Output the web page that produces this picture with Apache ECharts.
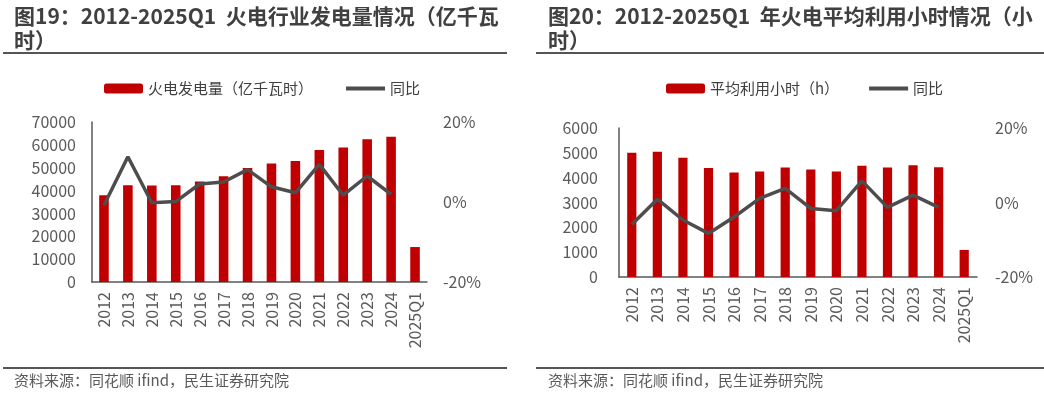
<!DOCTYPE html>
<html>
<head>
<meta charset="utf-8">
<script src="https://cdn.jsdelivr.net/npm/echarts@6/dist/echarts.min.js"></script>
<style>
html,body{margin:0;padding:0;background:#fff;}
#c{width:1044px;height:397px;}
</style>
</head>
<body>
<div id="c"></div>
<script>
// ---- data ----
const categories = ['2012','2013','2014','2015','2016','2017','2018','2019','2020','2021','2022','2023','2024','2025Q1'];
const genValues = [37900, 42300, 42200, 42300, 44000, 46300, 49900, 51800, 52900, 57700, 58800, 62400, 63600, 15300];
const genYoY = [-0.8, 11.3, -0.2, 0.1, 4.5, 5.0, 8.1, 3.8, 2.3, 9.4, 1.7, 6.5, 1.9, null];
const hourValues = [5000, 5040, 4800, 4390, 4210, 4250, 4410, 4330, 4250, 4480, 4410, 4500, 4420, 1090];
const hourYoY = [-5.9, 0.9, -4.7, -8.3, -3.9, 1.1, 3.8, -1.6, -2.2, 5.8, -1.3, 2.0, -1.3, null];
const genTicks = [0, 70000, 10000];
const hourTicks = [0, 6000, 1000];
const pctTicks = [-20, 20, 20];

const FONT = '"Noto Sans CJK SC", "Noto Sans", sans-serif';
const RED = '#C00000';
const GRAY = '#4D4D4D';
const AX = '#595959';
const LINE_ICON = 'path://M0,0L0,0.01M0,3L40,3L40,7L0,7ZM0,10L0,10.01';

const chart = echarts.init(document.getElementById('c'), null, {renderer:'canvas'});

function xAxisCfg(idx){
  return {
    type:'category', gridIndex:idx, data:categories,
    axisLine:{show:true, lineStyle:{color:AX, width:1.5}},
    axisTick:{show:false},
    axisLabel:{rotate:90, color:AX, fontSize:16, margin:10, fontFamily:FONT, interval:0},
    splitLine:{show:false}
  };
}
function yLeft(idx, t, margin){
  return {
    type:'value', gridIndex:idx, min:t[0], max:t[1], interval:t[2], position:'left',
    axisLine:{show:true, lineStyle:{color:AX, width:1.5}},
    axisTick:{show:false}, splitLine:{show:false},
    axisLabel:{color:AX, fontSize:16, margin:margin, fontFamily:FONT, formatter:function(v){return String(v);}}
  };
}
function yRight(idx, margin){
  return {
    type:'value', gridIndex:idx, min:pctTicks[0], max:pctTicks[1], interval:pctTicks[2], position:'right',
    axisLine:{show:false}, axisTick:{show:false}, splitLine:{show:false},
    axisLabel:{color:AX, fontSize:16, margin:margin, fontFamily:FONT, formatter:'{value}%'}
  };
}

const option = {
  animation:false,
  backgroundColor:'#fff',
  textStyle:{fontFamily:FONT},
  graphic:[
    {type:'text', left:14, top:4, style:{text:'图19：2012-2025Q1  火电行业发电量情况（亿千瓦\n时）', font:'bold 21px '+FONT, fill:'#404040', lineHeight:24}},
    {type:'text', left:548, top:4, style:{text:'图20：2012-2025Q1  年火电平均利用小时情况（小\n时）', font:'bold 21px '+FONT, fill:'#404040', lineHeight:24}},
    {type:'rect', shape:{x:3, y:52, width:504, height:2}, style:{fill:'#555'}},
    {type:'rect', shape:{x:536, y:52, width:508, height:2}, style:{fill:'#555'}},
    {type:'rect', shape:{x:3, y:367, width:504, height:2}, style:{fill:'#555'}},
    {type:'rect', shape:{x:536, y:367, width:508, height:2}, style:{fill:'#555'}},
    {type:'text', left:14, top:373, style:{text:'资料来源：同花顺 ifind，民生证券研究院', font:'15px '+FONT, fill:AX}},
    {type:'text', left:548, top:373, style:{text:'资料来源：同花顺 ifind，民生证券研究院', font:'15px '+FONT, fill:AX}}
  ],
  legend:[
    {left:99, top:76, itemWidth:39, itemHeight:10, itemGap:33,
     data:['火电发电量（亿千瓦时）',{name:'同比', icon:LINE_ICON}],
     textStyle:{color:'#404040', fontSize:15, fontFamily:FONT}},
    {left:661, top:76, itemWidth:39, itemHeight:10, itemGap:30,
     data:['平均利用小时（h）',{name:'同比', icon:LINE_ICON}],
     textStyle:{color:'#404040', fontSize:15, fontFamily:FONT}}
  ],
  grid:[
    {left:92, top:122, width:335, height:160},
    {left:619, top:128, width:358, height:149}
  ],
  xAxis:[xAxisCfg(0), xAxisCfg(1)],
  yAxis:[yLeft(0, genTicks, 16), yRight(0, 16), yLeft(1, hourTicks, 21), yRight(1, 18)],
  series:[
    {name:'火电发电量（亿千瓦时）', type:'bar', xAxisIndex:0, yAxisIndex:0, data:genValues,
     barWidth:'40%', itemStyle:{color:RED}},
    {name:'同比', type:'line', xAxisIndex:0, yAxisIndex:1, data:genYoY, symbol:'none',
     lineStyle:{color:GRAY, width:3.5}, itemStyle:{color:GRAY}},
    {name:'平均利用小时（h）', type:'bar', xAxisIndex:1, yAxisIndex:2, data:hourValues,
     barWidth:'36%', itemStyle:{color:RED}},
    {name:'同比', type:'line', xAxisIndex:1, yAxisIndex:3, data:hourYoY, symbol:'none',
     lineStyle:{color:GRAY, width:3.5}, itemStyle:{color:GRAY}}
  ]
};
chart.setOption(option);
</script>
</body>
</html>
